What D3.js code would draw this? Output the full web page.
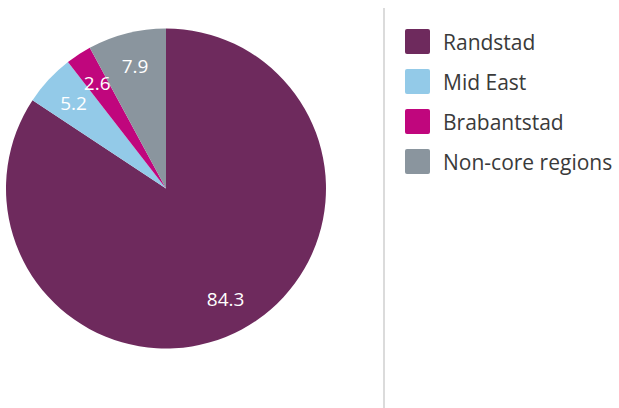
<!DOCTYPE html>
<html><head><meta charset="utf-8">
<script src="https://cdn.jsdelivr.net/npm/d3@7"></script>
<style>html,body{margin:0;padding:0;background:#fff;}</style>
</head><body>
<svg id="c" width="619" height="408"></svg>
<script>
const categories = ["Randstad", "Mid East", "Brabantstad", "Non-core regions"];
const values = [84.3, 5.2, 2.6, 7.9];
const labels = ["84.3", "5.2", "2.6", "7.9"];
const colors = ["#6E2A5D", "#93CAE8", "#C0067D", "#8A959E"];

const svg = d3.select("#c");
const cx = 166, cy = 188.5, r = 160;
const g = svg.append("g").attr("transform", `translate(${cx},${cy})`);
const pie = d3.pie().sort(null).value(d => d)(values);
const arc = d3.arc().innerRadius(0).outerRadius(r);
const labelArc = d3.arc().innerRadius(126).outerRadius(126);
const color = d3.scaleOrdinal().domain(categories).range(colors);

g.selectAll("path").data(pie).join("path")
  .attr("d", arc)
  .attr("fill", (d, i) => color(categories[i]));

g.selectAll("text").data(pie).join("text")
  .attr("transform", d => `translate(${labelArc.centroid(d)})`)
  .attr("text-anchor", "middle")
  .attr("dominant-baseline", "central")
  .attr("fill", "#fff")
  .style("font-family", "'Open Sans', 'DejaVu Sans', sans-serif")
  .style("font-size", "19px")
  .text((d, i) => labels[i]);

svg.append("line").attr("x1", 384).attr("x2", 384).attr("y1", 8).attr("y2", 408)
  .attr("stroke", "#cfcfcf").attr("stroke-width", 1.5);

const lg = svg.append("g").attr("transform", "translate(405,29)");
const item = lg.selectAll("g").data(categories).join("g")
  .attr("transform", (d, i) => `translate(0,${i * 40})`);
item.append("rect").attr("width", 25).attr("height", 25).attr("rx", 2)
  .attr("fill", d => color(d));
item.append("text").attr("x", 38).attr("y", 12.5)
  .attr("dominant-baseline", "central")
  .attr("fill", "#3a3a3a")
  .style("font-family", "'Open Sans', 'DejaVu Sans', sans-serif")
  .style("font-size", "21px")
  .text(d => d);
</script>
</body></html>
